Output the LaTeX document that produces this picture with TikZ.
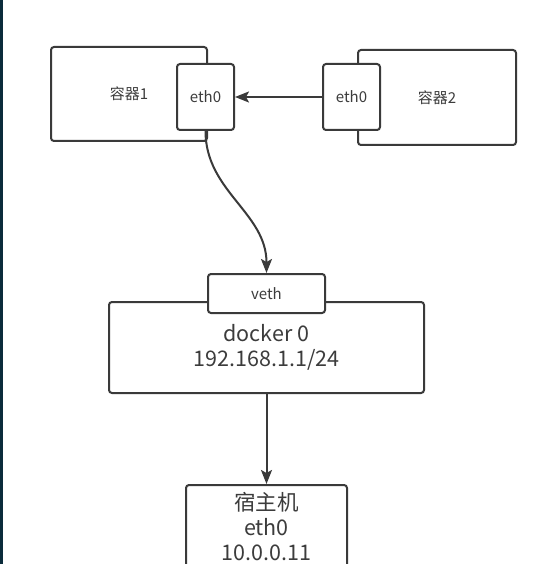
\documentclass[tikz,border=0pt]{standalone}
\usepackage{fontspec}
\setmainfont{Noto Sans CJK SC}
\usetikzlibrary{arrows.meta}
\definecolor{ln}{HTML}{3A3A3A}
\definecolor{tx}{HTML}{3C3C3C}
\definecolor{strip}{HTML}{0B2B3B}
\tikzset{
  box/.style={draw=ln, line width=2pt, rounded corners=3pt, fill=white, inner sep=0pt, text=tx},
  small/.style={font=\fontsize{15}{18}\selectfont},
  big/.style={font=\fontsize{21.5}{25}\selectfont, align=center},
  conn/.style={draw=ln, line width=2pt, -{Stealth[length=14pt,width=11pt,inset=3pt]}}
}
\begin{document}
\begin{tikzpicture}[x=1pt,y=-1pt]
\useasboundingbox (0,0) rectangle (539,564);
\clip (0,0) rectangle (539,564);
\fill[white] (0,0) rectangle (539,564);
\fill[strip] (0,0) rectangle (3,564);
% containers
\node[box, small, minimum width=156pt, minimum height=94pt] (c1) at (129,94) {容器1};
\node[box, small, minimum width=57pt, minimum height=66pt] (e1) at (205.5,97) {eth0};
\node[box, small, minimum width=158pt, minimum height=95pt] (c2) at (437,97.5) {容器2};
\node[box, small, minimum width=57pt, minimum height=66pt] (e2) at (351.5,97) {eth0};
% bridge
\node[box, big, minimum width=315pt, minimum height=91pt] (d0) at (266.5,347.5) {docker 0\\192.168.1.1/24};
\node[box, small, minimum width=117pt, minimum height=39pt] (veth) at (266.5,293.5) {veth};
% host
\node[box, big, minimum width=161pt, minimum height=84pt] (host) at (266.5,527) {宿主机\\eth0\\10.0.0.11};
% connectors
\draw[conn] (e2.west) -- (e1.east);
\draw[conn] (e1.south) to[out=-90,in=90] (veth.north);
\draw[conn] (d0.south) -- (host.north);
\end{tikzpicture}
\end{document}
